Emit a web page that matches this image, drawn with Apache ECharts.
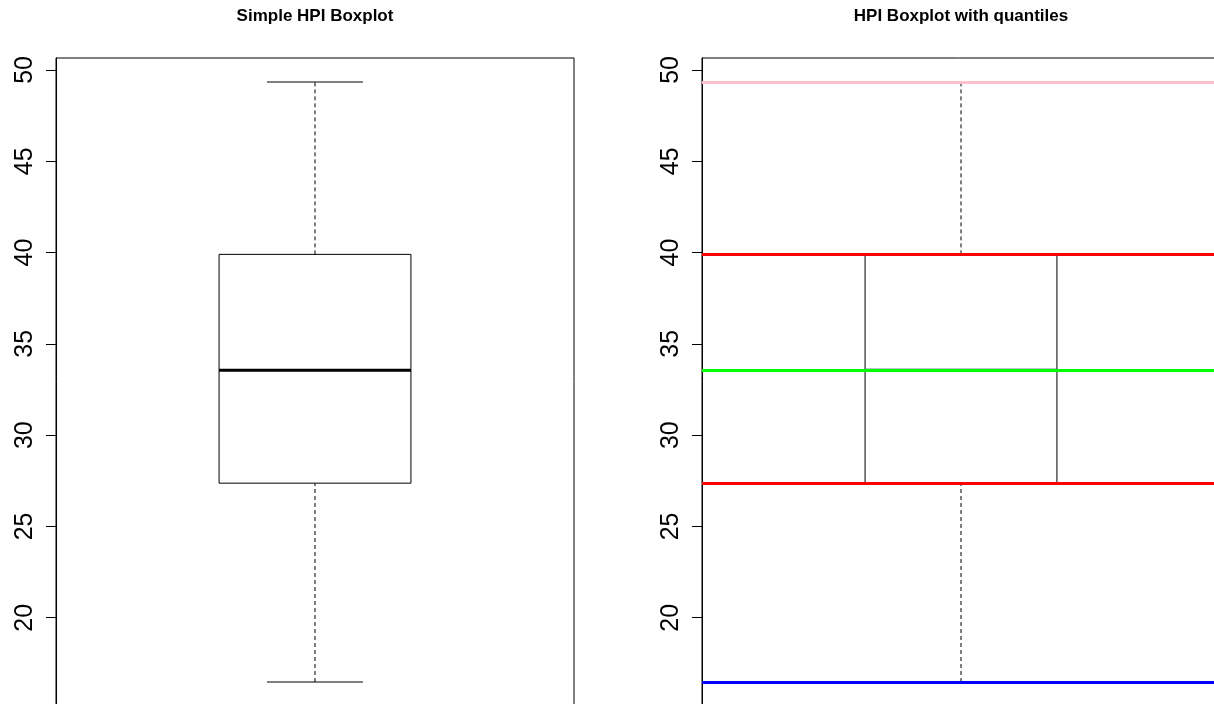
<!DOCTYPE html>
<html>
<head>
<meta charset="utf-8">
<title>HPI Boxplots</title>
<script src="https://cdn.jsdelivr.net/npm/echarts@6/dist/echarts.min.js"></script>
<style>
  html, body { margin: 0; padding: 0; background: #fff; }
  #chart { width: 1214px; height: 704px; }
</style>
</head>
<body>
<div id="chart"></div>
<script>
// Five-number summary of the HPI values: min, Q1, median, Q3, max
const hpiStats = [16.48, 27.37, 33.55, 39.90, 49.34];
// Quantile reference lines (0%, 25%, 50%, 75%, 100%) and their colours
const quantileValues = [16.48, 27.37, 33.55, 39.90, 49.34];
const quantileColors = ['#0000FF', '#FF0000', '#00FF00', '#FF0000', '#FFC0CB'];
const yTickValues = [20, 25, 30, 35, 40, 45, 50];
const panelTitles = ['Simple HPI Boxplot', 'HPI Boxplot with quantiles'];

// Axis range padded by 4% on each side, like a base R plot
const span = hpiStats[4] - hpiStats[0];
const yMin = hpiStats[0] - 0.04 * span;
const yMax = hpiStats[4] + 0.04 * span;

const FONT = '"Liberation Sans", Arial, sans-serif';

function renderBox(params, api) {
  const x = api.value(0);
  const lo = api.value(1), q1 = api.value(2), med = api.value(3), q3 = api.value(4), hi = api.value(5);
  const c = (xx, yy) => api.coord([xx, yy]);
  const seg = (a, b, style) => ({
    type: 'line',
    shape: { x1: a[0], y1: a[1], x2: b[0], y2: b[1] },
    style: Object.assign({ stroke: '#000', lineWidth: 1 }, style)
  });
  const tl = c(x - 0.2, q3), br = c(x + 0.2, q1);
  return {
    type: 'group',
    children: [
      seg(c(x, q3), c(x, hi), { lineDash: [4, 3] }),
      seg(c(x, lo), c(x, q1), { lineDash: [4, 3] }),
      seg(c(x - 0.1, hi), c(x + 0.1, hi)),
      seg(c(x - 0.1, lo), c(x + 0.1, lo)),
      {
        type: 'rect',
        shape: { x: tl[0], y: tl[1], width: br[0] - tl[0], height: br[1] - tl[1] },
        style: { fill: 'none', stroke: '#000', lineWidth: 1 }
      },
      seg(c(x - 0.2, med), c(x + 0.2, med), { lineWidth: 3 })
    ]
  };
}

// Both panels share the same frame size; the lower edge and the right
// panel's right edge run past the canvas.
const grids = [
  { left: 56, top: 58, width: 518, height: 648 },
  { left: 702, top: 58, width: 518, height: 648 }
];

const yAxes = grids.map((g, i) => ({
  type: 'value',
  gridIndex: i,
  min: yMin,
  max: yMax,
  axisLine: { show: true, lineStyle: { color: '#000', width: 1 } },
  axisTick: { show: true, length: 10, customValues: yTickValues, lineStyle: { color: '#000' } },
  axisLabel: {
    customValues: yTickValues,
    rotate: 90,
    margin: 18,
    fontSize: 25,
    color: '#000',
    fontFamily: FONT
  },
  splitLine: { show: false }
}));

const xAxes = grids.map((g, i) => ({
  type: 'value',
  gridIndex: i,
  min: 0.46,
  max: 1.54,
  show: false
}));

const option = {
  animation: false,
  backgroundColor: '#fff',
  title: panelTitles.map((t, i) => ({
    text: t,
    left: i === 0 ? 315 : 961,
    top: 8,
    padding: 0,
    textAlign: 'center',
    textStyle: { fontSize: 17, fontWeight: 'bold', color: '#000', fontFamily: FONT }
  })),
  grid: grids.map(g => Object.assign({
    show: true,
    borderColor: '#000',
    borderWidth: 1,
    backgroundColor: 'transparent',
    outerBoundsMode: 'none',
    containLabel: false
  }, g)),
  xAxis: xAxes,
  yAxis: yAxes,
  series: [
    {
      type: 'custom',
      xAxisIndex: 0,
      yAxisIndex: 0,
      renderItem: renderBox,
      encode: { x: 0, y: [1, 2, 3, 4, 5] },
      data: [[1].concat(hpiStats)],
      silent: true
    },
    {
      type: 'custom',
      xAxisIndex: 1,
      yAxisIndex: 1,
      renderItem: renderBox,
      encode: { x: 0, y: [1, 2, 3, 4, 5] },
      data: [[1].concat(hpiStats)],
      silent: true,
      markLine: {
        silent: true,
        symbol: ['none', 'none'],
        label: { show: false },
        emphasis: { disabled: true },
        data: quantileValues.map((v, i) => ({
          yAxis: v,
          lineStyle: { color: quantileColors[i], width: 3, type: 'solid' }
        }))
      }
    }
  ]
};

const chart = echarts.init(document.getElementById('chart'), null, { renderer: 'canvas' });
chart.setOption(option);
</script>
</body>
</html>
